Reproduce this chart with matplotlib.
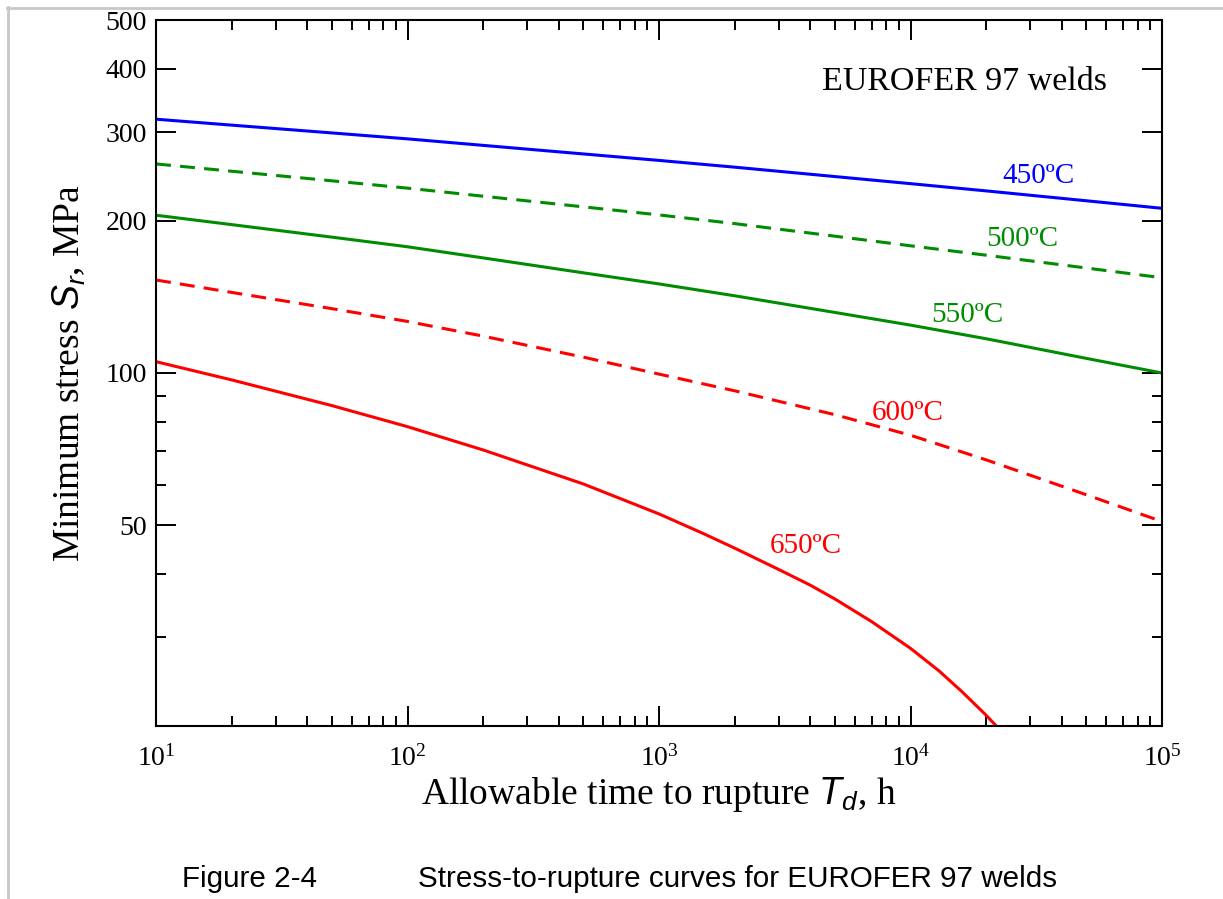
import math
import matplotlib
matplotlib.use("Agg")
import matplotlib.pyplot as plt
from matplotlib.ticker import FixedLocator, NullFormatter, FuncFormatter, LogLocator
from matplotlib.lines import Line2D

plt.rcParams['font.family'] = ['Liberation Serif', 'DejaVu Serif']
plt.rcParams['mathtext.fontset'] = 'custom'
plt.rcParams['mathtext.it'] = 'Liberation Sans:italic'
plt.rcParams['mathtext.rm'] = 'Liberation Serif'

# ---- data ----
t_common = [10, 20, 50, 100, 200, 500, 1000, 2000, 5000, 10000, 20000, 50000, 100000]
s_450 = [318.1, 309.6, 298.8, 290.8, 282.3, 271.5, 263.6, 255.6, 244.9, 237.1, 229.4, 219.3, 211.9]
s_500 = [259.4, 250.9, 240.2, 232.3, 223.9, 213.3, 205.6, 197.6, 186.6, 178.6, 171.1, 161.4, 154.4]
s_550 = [205.3, 196.7, 185.8, 177.8, 169.0, 157.9, 150.1, 142.2, 131.8, 124.4, 116.9, 106.9, 100.0]
s_600 = [152.8, 144.4, 134.1, 126.5, 118.3, 107.5, 99.5, 92.2, 82.7, 75.3, 67.3, 57.4, 50.8]

t_650 = [10, 20, 50, 100, 200, 500, 1000, 1500, 2000, 3000, 4000, 5000, 7000,
         10000, 13000, 16000, 20000, 23000]
s_650 = [105.3, 96.9, 86.2, 78.3, 70.4, 60.3, 52.6, 48.1, 45.0, 40.8, 38.0, 35.7, 32.2,
         28.5, 25.7, 23.4, 21.0, 19.5]

curve_labels = ["450ºC", "500ºC", "550ºC", "600ºC", "650ºC"]
y_major = [50, 100, 200, 300, 400, 500]
y_minor = [20, 30, 40, 60, 70, 80, 90]

W, H = 1223, 899
fig = plt.figure(figsize=(W / 100, H / 100), dpi=100)
ax = fig.add_axes([156 / W, 1 - 726 / H, (1162 - 156) / W, (726 - 20) / H])

blue = '#0000ff'
green = '#008c00'
red = '#ff0000'
lw = 2.2
dash = (0, (4.9, 3.0))

ax.plot(t_common, s_450, color=blue, lw=lw)
ax.plot(t_common, s_500, color=green, lw=lw, linestyle=dash)
ax.plot(t_common, s_550, color=green, lw=lw)
ax.plot(t_common, s_600, color=red, lw=lw, linestyle=dash)
ax.plot(t_650, s_650, color=red, lw=lw)

ax.set_xscale('log')
ax.set_yscale('log')
ax.set_xlim(10, 1e5)
ax.set_ylim(20, 500)

ax.yaxis.set_major_locator(FixedLocator(y_major))
ax.yaxis.set_minor_locator(FixedLocator(y_minor))
ax.yaxis.set_major_formatter(FuncFormatter(lambda v, p: '%d' % round(v)))
ax.yaxis.set_minor_formatter(NullFormatter())

ax.xaxis.set_major_locator(LogLocator(base=10, numticks=10))
ax.xaxis.set_minor_locator(LogLocator(base=10, subs=range(2, 10), numticks=10))
ax.xaxis.set_major_formatter(FuncFormatter(lambda v, p: r'$\mathregular{10^{%d}}$' % round(math.log10(v))))
ax.xaxis.set_minor_formatter(NullFormatter())

ax.tick_params(which='both', direction='in', top=True, right=True, width=1.4, colors='black')
ax.tick_params(which='major', length=14.4, labelsize=20)
ax.tick_params(which='minor', length=7.2)
ax.tick_params(axis='y', which='major', pad=6.5)
ax.tick_params(axis='x', which='major', pad=13.5)
for sp in ax.spines.values():
    sp.set_linewidth(1.5)

ax.set_xlabel(r'Allowable time to rupture $T_d$, h', fontsize=27, labelpad=3)
ax.set_ylabel(r'Minimum stress $S_r$, MPa', fontsize=27, labelpad=13)

ax.text(0.662, 0.901, 'EUROFER 97 welds', transform=ax.transAxes, fontsize=24.5,
        ha='left', va='baseline')
label_pos = [(0.841, 0.769, blue), (0.825, 0.680, green), (0.771, 0.572, green),
             (0.711, 0.433, red), (0.610, 0.245, red)]
for txt, (x, y, c) in zip(curve_labels, label_pos):
    ax.text(x, y, txt, transform=ax.transAxes, fontsize=21, color=c, ha='left', va='baseline')

# caption
fig.text(182 / W, 1 - 887 / H, 'Figure 2-4', family='Liberation Sans', fontsize=21.3, va='baseline')
fig.text(418 / W, 1 - 887 / H, 'Stress-to-rupture curves for EUROFER 97 welds',
         family='Liberation Sans', fontsize=21.3, va='baseline')

# page border lines
fig.add_artist(Line2D([7 / W, 1], [1 - 7.5 / H, 1 - 7.5 / H], color='#c8c8c8', lw=2, transform=fig.transFigure))
fig.add_artist(Line2D([7.5 / W, 7.5 / W], [0, 1 - 7 / H], color='#c8c8c8', lw=2, transform=fig.transFigure))

fig.savefig('out.png', dpi=100)
